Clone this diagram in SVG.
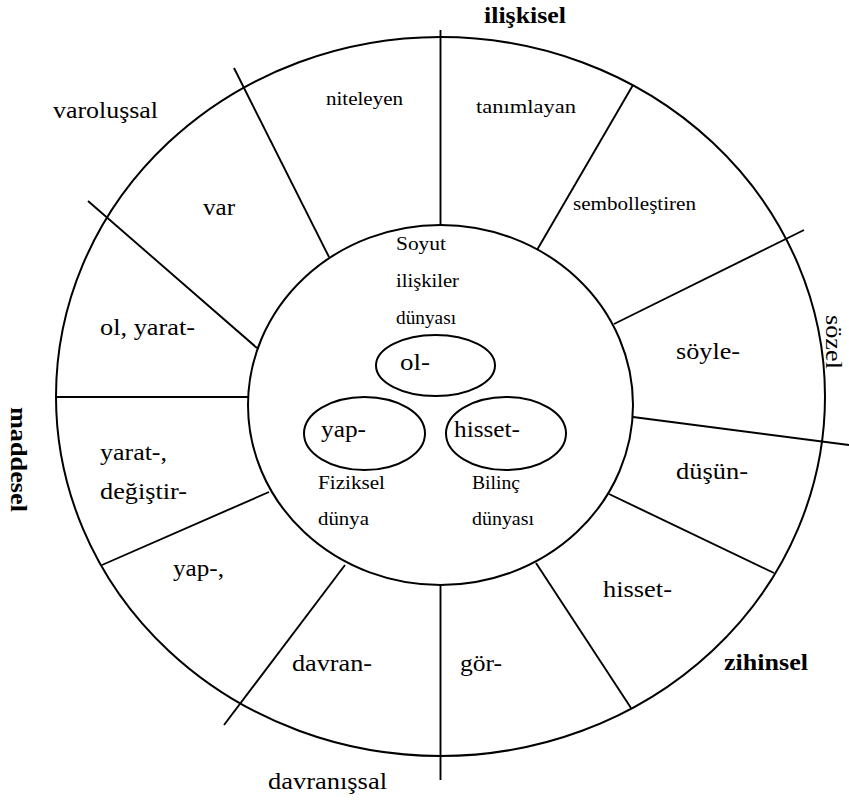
<svg xmlns="http://www.w3.org/2000/svg" width="849" height="800" viewBox="0 0 849 800" font-family="Liberation Serif, Times New Roman, serif">
  <style>
    .shape { fill: none; stroke: #000; stroke-width: 2; }
    .div { stroke: #000; stroke-width: 1.9; fill: none; }
    text { fill: #000; }
    .lg { font-size: 24px; }
    .sm { font-size: 19px; }
    .bd { font-size: 23px; font-weight: bold; }
  </style>
  <rect width="849" height="800" fill="#fff"/>

  <!-- outer ring -->
  <g id="outer-ring">
    <ellipse class="shape" cx="440.5" cy="396.5" rx="384.5" ry="359.5"/>
  </g>

  <!-- sector dividers -->
  <g id="dividers">
    <line class="div" x1="440.5" y1="30" x2="440.5" y2="225"/>
    <line class="div" x1="440.5" y1="585" x2="440.5" y2="780"/>
    <line class="div" x1="234" y1="68" x2="329" y2="257"/>
    <line class="div" x1="633" y1="85" x2="537" y2="250"/>
    <line class="div" x1="88" y1="201" x2="257" y2="348"/>
    <line class="div" x1="56" y1="397" x2="248" y2="397"/>
    <line class="div" x1="269" y1="492" x2="102" y2="565"/>
    <line class="div" x1="345" y1="565" x2="224" y2="725"/>
    <line class="div" x1="536" y1="563" x2="631" y2="708"/>
    <line class="div" x1="609" y1="494" x2="774" y2="573"/>
    <line class="div" x1="633" y1="417" x2="849" y2="445"/>
    <line class="div" x1="614" y1="324" x2="804" y2="230"/>
  </g>

  <!-- inner circle -->
  <g id="inner-circle">
    <ellipse class="shape" cx="440.5" cy="405" rx="192.5" ry="180" fill="#fff"/>
    <text class="sm" x="396" y="250" textLength="50" lengthAdjust="spacingAndGlyphs">Soyut</text>
    <text class="sm" x="396" y="287" textLength="63" lengthAdjust="spacingAndGlyphs">ilişkiler</text>
    <text class="sm" x="396" y="324" textLength="60" lengthAdjust="spacingAndGlyphs">dünyası</text>
    <text class="sm" x="318" y="489" textLength="67" lengthAdjust="spacingAndGlyphs">Fiziksel</text>
    <text class="sm" x="318" y="525" textLength="51" lengthAdjust="spacingAndGlyphs">dünya</text>
    <text class="sm" x="472" y="489" textLength="48" lengthAdjust="spacingAndGlyphs">Bilinç</text>
    <text class="sm" x="472" y="525" textLength="62" lengthAdjust="spacingAndGlyphs">dünyası</text>
  </g>

  <g id="node-ol">
    <ellipse class="shape" cx="435.5" cy="365.5" rx="59.5" ry="30.5"/>
    <text class="lg" x="400" y="370" textLength="30" lengthAdjust="spacingAndGlyphs">ol-</text>
  </g>
  <g id="node-yap">
    <ellipse class="shape" cx="364.5" cy="433.5" rx="60.5" ry="36.5"/>
    <text class="lg" x="321" y="437" textLength="45" lengthAdjust="spacingAndGlyphs">yap-</text>
  </g>
  <g id="node-hisset">
    <ellipse class="shape" cx="506" cy="433.5" rx="60" ry="36.5"/>
    <text class="lg" x="454" y="437" textLength="66" lengthAdjust="spacingAndGlyphs">hisset-</text>
  </g>

  <!-- sector labels -->
  <g id="sector-labels">
    <text class="sm" x="326" y="105" textLength="77" lengthAdjust="spacingAndGlyphs">niteleyen</text>
    <text class="sm" x="476" y="113" textLength="100" lengthAdjust="spacingAndGlyphs">tanımlayan</text>
    <text class="sm" x="573" y="210" textLength="123" lengthAdjust="spacingAndGlyphs">sembolleştiren</text>
    <text class="lg" x="203" y="215" textLength="32" lengthAdjust="spacingAndGlyphs">var</text>
    <text class="lg" x="100" y="335" textLength="95" lengthAdjust="spacingAndGlyphs">ol, yarat-</text>
    <text class="lg" x="676" y="359" textLength="64" lengthAdjust="spacingAndGlyphs">söyle-</text>
    <text class="lg" x="100" y="460" textLength="67" lengthAdjust="spacingAndGlyphs">yarat-,</text>
    <text class="lg" x="100" y="499" textLength="87" lengthAdjust="spacingAndGlyphs">değiştir-</text>
    <text class="lg" x="676" y="479" textLength="72" lengthAdjust="spacingAndGlyphs">düşün-</text>
    <text class="lg" x="173" y="576" textLength="51" lengthAdjust="spacingAndGlyphs">yap-,</text>
    <text class="lg" x="603" y="597" textLength="69" lengthAdjust="spacingAndGlyphs">hisset-</text>
    <text class="lg" x="292" y="671" textLength="80" lengthAdjust="spacingAndGlyphs">davran-</text>
    <text class="lg" x="460" y="671" textLength="42" lengthAdjust="spacingAndGlyphs">gör-</text>
  </g>

  <!-- outer category labels -->
  <g id="category-labels">
    <text class="bd" x="484" y="23" textLength="82" lengthAdjust="spacingAndGlyphs">ilişkisel</text>
    <text class="lg" x="53" y="118" textLength="105" lengthAdjust="spacingAndGlyphs">varoluşsal</text>
    <text class="lg" transform="translate(826 315) rotate(90)" textLength="54" lengthAdjust="spacingAndGlyphs">sözel</text>
    <text class="bd" transform="translate(11 407) rotate(90)" textLength="105" lengthAdjust="spacingAndGlyphs">maddesel</text>
    <text class="bd" x="724" y="670" textLength="84" lengthAdjust="spacingAndGlyphs">zihinsel</text>
    <text class="lg" x="268" y="789" textLength="119" lengthAdjust="spacingAndGlyphs">davranışsal</text>
  </g>
</svg>
